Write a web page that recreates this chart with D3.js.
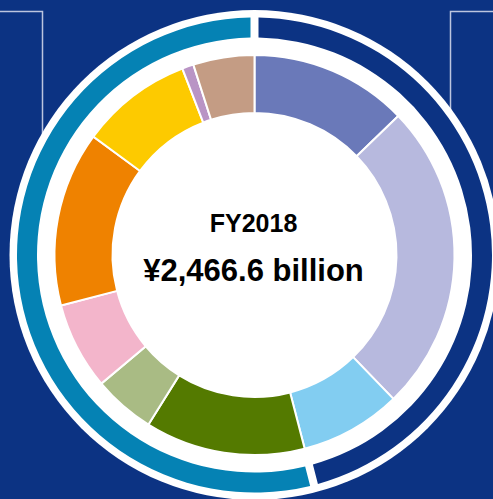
<!DOCTYPE html>
<html>
<head>
<meta charset="utf-8">
<script src="https://cdn.jsdelivr.net/npm/d3@7"></script>
<style>
  html, body { margin: 0; padding: 0; background: #0c3383; }
  svg { display: block; }
</style>
</head>
<body>
<svg id="chart" width="493" height="499"></svg>
<script>
// ---- data (¥ billion) ----
const categories = ["Segment 1", "Segment 2", "Segment 3", "Segment 4", "Segment 5",
                    "Segment 6", "Segment 7", "Segment 8", "Segment 9", "Segment 10"];
const values = [315, 617, 202, 319, 123, 174, 349, 223, 23, 122];
const sliceColors = ["#6a79b9", "#b7b9de", "#82cdf1", "#547a00", "#a9bb84",
                     "#f3b5cb", "#ef8200", "#fdca00", "#b994c5", "#c49c84"];
const groupNames = ["Group A", "Group B"];
const groupMembers = [[0, 1, 2], [3, 4, 5, 6, 7, 8, 9]];
const groupColors = ["#0c3383", "#0582b4"];
const titleText = "FY2018";
const totalText = "¥2,466.6 billion";

const svg = d3.select("#chart");
const W = 493, H = 499;
const cx = 254.5, cy = 255;

// background
svg.append("rect").attr("width", W).attr("height", H).attr("fill", "#0c3383");

// frame lines (end hidden behind the white disk)
svg.append("path")
  .attr("d", "M0,11.5 H42.5 V200")
  .attr("fill", "none").attr("stroke", "#bcc5df").attr("stroke-width", 1.5);
svg.append("path")
  .attr("d", "M493,11.5 H450.5 V200")
  .attr("fill", "none").attr("stroke", "#bcc5df").attr("stroke-width", 1.5);

const g = svg.append("g").attr("transform", `translate(${cx},${cy})`);

// white disk
g.append("circle").attr("r", 245).attr("fill", "#ffffff");

// outer group ring
const groupValues = groupMembers.map(m => d3.sum(m, i => values[i]));
const pie = d3.pie().sort(null).value(d => d);
const ringArc = d3.arc().innerRadius(217.5).outerRadius(237.5)
  .padRadius(227).padAngle(8 / 227);
g.selectAll("path.ring")
  .data(pie(groupValues))
  .join("path")
  .attr("class", "ring")
  .attr("d", ringArc)
  .attr("fill", (d, i) => groupColors[i]);

// inner donut
const sliceArc = d3.arc().innerRadius(142).outerRadius(200);
g.selectAll("path.slice")
  .data(pie(values))
  .join("path")
  .attr("class", "slice")
  .attr("d", sliceArc)
  .attr("fill", (d, i) => sliceColors[i])
  .attr("stroke", "#ffffff")
  .attr("stroke-width", 2)
  .attr("stroke-linejoin", "miter");

// center text
g.append("text")
  .attr("x", -1).attr("y", 232 - cy)
  .attr("text-anchor", "middle")
  .attr("font-family", "'Liberation Sans', Arial, sans-serif")
  .attr("font-weight", "bold")
  .attr("font-size", 25)
  .attr("fill", "#000000")
  .text(titleText);
g.append("text")
  .attr("x", -1).attr("y", 281 - cy)
  .attr("text-anchor", "middle")
  .attr("font-family", "'Liberation Sans', Arial, sans-serif")
  .attr("font-weight", "bold")
  .attr("font-size", 31)
  .attr("fill", "#000000")
  .text(totalText);
</script>
</body>
</html>
